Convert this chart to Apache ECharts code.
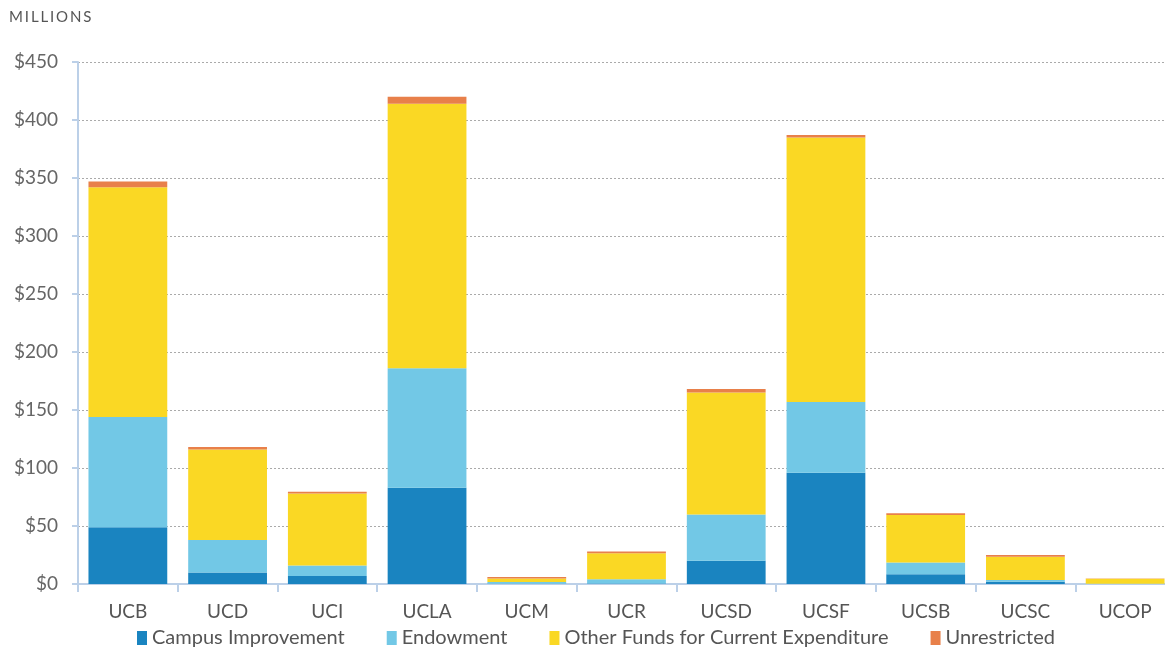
<!DOCTYPE html>
<html>
<head>
<meta charset="utf-8">
<script src="https://cdn.jsdelivr.net/npm/echarts@6/dist/echarts.min.js"></script>
<style>
  html, body { margin: 0; padding: 0; background: #fff; }
  #chart { width: 1165px; height: 650px; }
</style>
</head>
<body>
<div id="chart"></div>
<script>
// campuses on the x axis
const campuses = ['UCB', 'UCD', 'UCI', 'UCLA', 'UCM', 'UCR', 'UCSD', 'UCSF', 'UCSB', 'UCSC', 'UCOP']
// values in millions of dollars
const campusImprovement = [49, 10, 7, 83, 0.3, 0.5, 20, 96, 8.5, 2, 0]
const endowment = [95, 28, 9, 103, 1.5, 3.5, 40, 61, 10, 1.5, 0.2]
const otherFunds = [198, 78, 62, 228, 3, 22.5, 105, 228, 41, 20, 4.3]
const unrestricted = [5, 2, 1.5, 6, 1.2, 1.5, 3, 2, 1.5, 1.5, 0.2]
const yTicks = [0, 50, 100, 150, 200, 250, 300, 350, 400, 450]

const chart = echarts.init(document.getElementById('chart'))
const font = 'Lato, "Open Sans", sans-serif'

function bar(name, data, color) {
  return {
    name: name,
    type: 'bar',
    stack: 'total',
    data: data,
    barCategoryGap: '21%',
    itemStyle: { color: color },
    emphasis: { disabled: true }
  }
}

chart.setOption({
  animation: false,
  textStyle: { fontFamily: font },
  graphic: [{
    type: 'text',
    left: 9,
    top: 10,
    style: { text: 'M\u2009I\u2009L\u2009L\u2009I\u2009O\u2009N\u2009S', fill: '#555', fontSize: 15, fontFamily: font }
  }],
  // the last category runs past the right edge in the original
  grid: { left: 78, top: 62, width: 1097, bottom: 66, outerBoundsMode: 'none' },
  legend: {
    bottom: -3,
    left: 132,
    itemWidth: 10,
    itemHeight: 14,
    itemGap: 42,
    icon: 'rect',
    textStyle: { fontSize: 20, color: '#555', fontFamily: font }
  },
  xAxis: {
    type: 'category',
    data: campuses,
    axisLine: { lineStyle: { color: '#bcd0e8', width: 2 } },
    axisTick: { show: true, length: 8, lineStyle: { color: '#bcd0e8', width: 2 } },
    axisLabel: { fontSize: 19, color: '#555', margin: 18 }
  },
  yAxis: {
    type: 'value',
    min: 0,
    max: 450,
    interval: 50,
    axisLine: { show: true, lineStyle: { color: '#bcd0e8', width: 2 } },
    axisTick: { show: true, length: 6, lineStyle: { color: '#bcd0e8', width: 2 } },
    axisLabel: {
      fontSize: 19,
      color: '#666',
      margin: 20,
      formatter: v => yTicks.includes(v) ? '$' + v : ''
    },
    splitLine: { lineStyle: { color: '#aaa', type: [2, 2], width: 1 } }
  },
  series: [
    bar('Campus Improvement', campusImprovement, '#1a84c0'),
    bar('Endowment', endowment, '#72c8e6'),
    bar('Other Funds for Current Expenditure', otherFunds, '#fad824'),
    bar('Unrestricted', unrestricted, '#e8804a')
  ]
})
</script>
</body>
</html>
